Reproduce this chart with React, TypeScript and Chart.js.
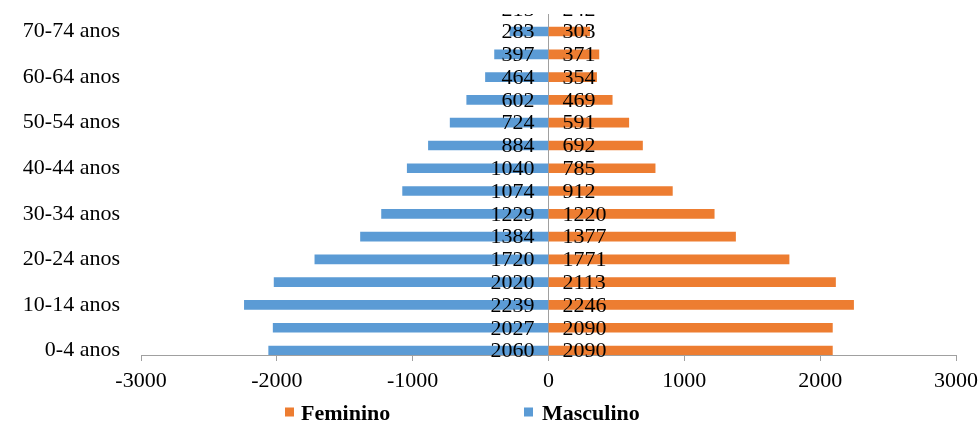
import React, { useEffect, useRef } from "react";
import { Chart, registerables } from "chart.js";

Chart.register(...registerables);

const categories = [
  "0-4 anos", "5-9 anos", "10-14 anos", "15-19 anos", "20-24 anos", "25-29 anos",
  "30-34 anos", "35-39 anos", "40-44 anos", "45-49 anos", "50-54 anos", "55-59 anos",
  "60-64 anos", "65-69 anos", "70-74 anos", "75-79 anos",
];
const masculino = [2060, 2027, 2239, 2020, 1720, 1384, 1229, 1074, 1040, 884, 724, 602, 464, 397, 283, 215];
const feminino = [2090, 2090, 2246, 2113, 1771, 1377, 1220, 912, 785, 692, 591, 469, 354, 371, 303, 242];
const xTicks = [-3000, -2000, -1000, 0, 1000, 2000, 3000];
const yTickIndices = [0, 2, 4, 6, 8, 10, 12, 14];

const BLUE = "#5B9BD5";
const ORANGE = "#ED7D31";
const GRAY = "#A0A0A0";
const FONT = "'Liberation Serif', 'Times New Roman', serif";

const labelsPlugin = {
  id: "valueLabels",
  afterDatasetsDraw(chart: any) {
    const { ctx, chartArea } = chart;
    const x0 = chart.scales.x.getPixelForValue(0);
    ctx.save();
    ctx.beginPath();
    ctx.rect(chartArea.left, chartArea.top, chartArea.right - chartArea.left, chartArea.bottom - chartArea.top + 20);
    ctx.clip();
    ctx.font = `22px ${FONT}`;
    ctx.fillStyle = "#000";
    ctx.textBaseline = "middle";
    chart.data.datasets.forEach((ds: any, di: number) => {
      const meta = chart.getDatasetMeta(di);
      meta.data.forEach((el: any, i: number) => {
        const v = Math.abs(ds.data[i].x);
        const y = el.y + 1;
        if (ds.data[i].x < 0) {
          ctx.textAlign = "right";
          ctx.fillText(String(v), x0 - 14, y);
        } else {
          ctx.textAlign = "left";
          ctx.fillText(String(v), x0 + 14, y);
        }
      });
    });
    ctx.restore();
  },
};

const legendPlugin = {
  id: "customLegend",
  afterDraw(chart: any) {
    const { ctx } = chart;
    ctx.save();
    ctx.font = `bold 22px ${FONT}`;
    ctx.fillStyle = "#000";
    ctx.textBaseline = "alphabetic";
    ctx.textAlign = "left";
    const items = [
      { label: "Feminino", color: ORANGE, bx: 285, tx: 301 },
      { label: "Masculino", color: BLUE, bx: 524, tx: 542 },
    ];
    items.forEach((it) => {
      ctx.fillStyle = it.color;
      ctx.fillRect(it.bx, 407.5, 9, 9);
      ctx.fillStyle = "#000";
      ctx.fillText(it.label, it.tx, 420);
    });
    ctx.restore();
  },
};

export default function App() {
  const ref = useRef<HTMLCanvasElement | null>(null);
  useEffect(() => {
    if (!ref.current) return;
    const chart = new Chart(ref.current, {
      type: "bar",
      data: {
        datasets: [
          {
            label: "Feminino",
            data: feminino.map((v, i) => ({ x: v, y: i })),
            backgroundColor: ORANGE,
            barThickness: 9,
          },
          {
            label: "Masculino",
            data: masculino.map((v, i) => ({ x: -v, y: i })),
            backgroundColor: BLUE,
            barThickness: 9,
          },
        ],
      },
      options: {
        indexAxis: "y",
        responsive: false,
        animation: false,
        layout: { padding: { top: 14, right: 24, left: 0, bottom: 0 } },
        plugins: { legend: { display: false }, tooltip: { enabled: false } },
        scales: {
          x: {
            type: "linear",
            stacked: true,
            min: -3000,
            max: 3000,
            afterBuildTicks: (s: any) => {
              s.ticks = xTicks.map((v) => ({ value: v }));
            },
            afterFit: (s: any) => {
              s.height = 67;
              s.paddingRight = 0;
              s.paddingLeft = 0;
            },
            ticks: {
              font: { family: FONT, size: 22 },
              color: "#000",
              padding: 7,
              maxRotation: 0,
              callback: (v: any) => String(v),
            },
            grid: {
              color: (c: any) => (c.tick && c.tick.value === 0 ? GRAY : "rgba(0,0,0,0)"),
              tickColor: GRAY,
              tickLength: 6,
              lineWidth: 1,
            },
            border: { display: true, color: GRAY, width: 1 },
          },
          y: {
            type: "linear",
            stacked: true,
            offset: false,
            min: -0.197,
            max: 14.77,
            afterBuildTicks: (s: any) => {
              s.ticks = yTickIndices.map((v) => ({ value: v }));
            },
            afterFit: (s: any) => {
              s.width = 141;
              s.paddingTop = 0;
              s.paddingBottom = 0;
            },
            ticks: {
              font: { family: FONT, size: 22 },
              color: "#000",
              padding: 21,
              callback: (v: any) => categories[v] ?? "",
            },
            grid: { display: false, drawTicks: false, offset: false },
            border: { display: false },
          },
        },
      },
      plugins: [labelsPlugin, legendPlugin],
    } as any);
    return () => chart.destroy();
  }, []);
  return (
    <div style={{ position: "absolute", left: 0, top: 0, width: 980, height: 422, background: "#fff" }}>
      <canvas ref={ref} width={980} height={422} style={{ display: "block" }} />
    </div>
  );
}
